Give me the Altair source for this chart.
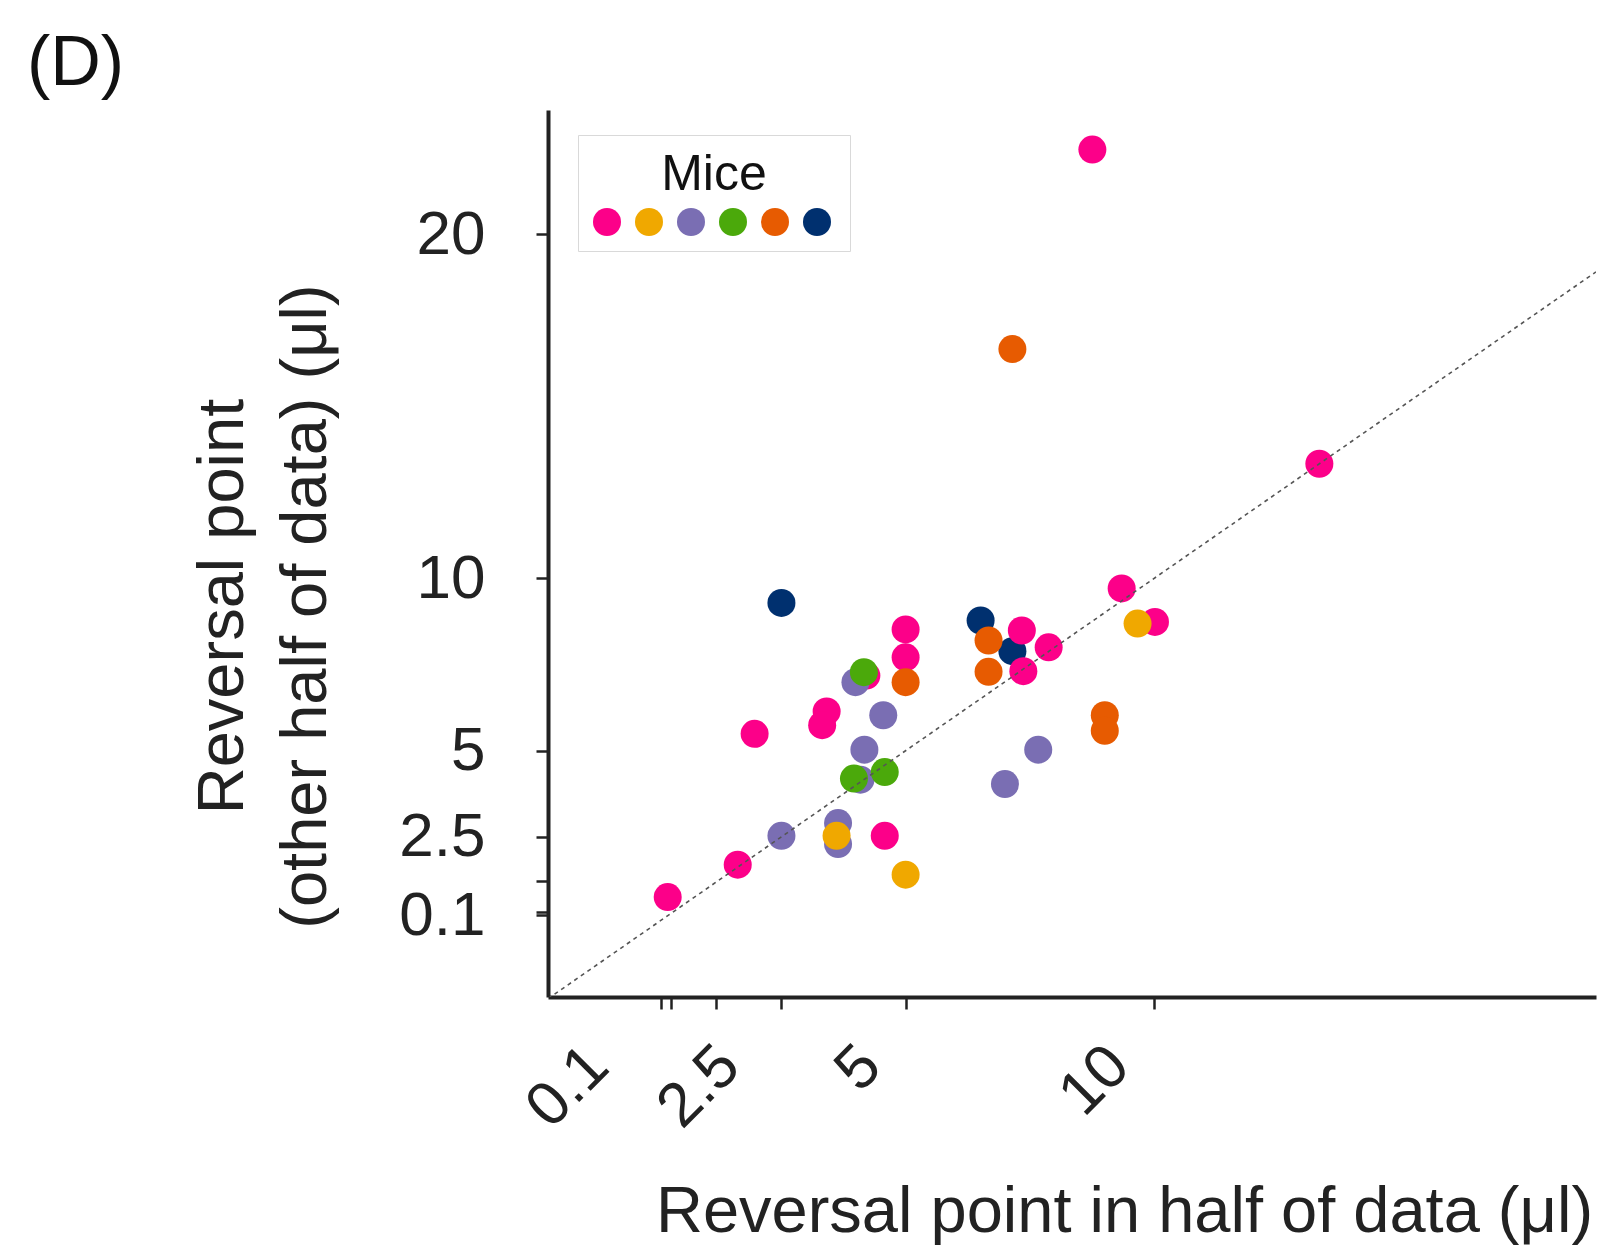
import altair as alt
import pandas as pd

# ---- data ----
mice = ["M1", "M2", "M3", "M4", "M5", "M6"]
colors = ["#fc0089", "#f0a800", "#7a6eb3", "#4ba90b", "#e75b01", "#00306f"]

pink_x = [8.76, 13.33, 9.35, 10.02, 7.34, 7.88, 7.37, 5.0, 5.0, 4.21, 3.41, 3.32, 1.96, 4.58, 1.62, 0.21]
pink_y = [22.45, 13.33, 9.71, 8.74, 8.49, 8.0, 7.31, 8.52, 7.71, 7.18, 6.14, 5.74, 5.49, 2.53, 1.69, 0.75]
yellow_x = [9.67, 3.61, 5.0]
yellow_y = [8.69, 2.53, 1.40]
purple_x = [3.99, 4.55, 4.17, 4.09, 7.67, 7.0, 2.5, 3.64, 3.64]
purple_y = [6.99, 6.03, 5.03, 4.16, 5.03, 4.03, 2.53, 2.9, 2.29]
green_x = [4.16, 3.96, 4.58]
green_y = [7.28, 4.19, 4.38]
orange_x = [7.15, 6.67, 6.67, 5.0, 9.01, 9.01]
orange_y = [16.66, 8.2, 7.29, 6.99, 6.03, 5.58]
navy_x = [2.5, 6.51, 7.15]
navy_y = [9.29, 8.78, 7.89]

x_domain = [-2.2, 18.9]
y_domain = [-2.15, 23.6]
diag = [-2.2, 18.9]

x_tick_values = [0.08, 0.28, 1.19, 2.5, 5, 10]
x_tick_labels = ["0.1", "", "", "2.5", "5", "10"]
y_tick_values = [0.22, 0.33, 1.23, 2.5, 5, 10, 20]
y_tick_labels = ["0.1", "", "", "2.5", "5", "10", "20"]

# drawing order (bottom to top)
groups = [
    ("M6", navy_x, navy_y),
    ("M1", pink_x, pink_y),
    ("M3", purple_x, purple_y),
    ("M2", yellow_x, yellow_y),
    ("M4", green_x, green_y),
    ("M5", orange_x, orange_y),
]
rows = []
for m, xs, ys in groups:
    for a, b in zip(xs, ys):
        rows.append({"mouse": m, "x": a, "y": b})
df = pd.DataFrame(rows)
df["ord"] = range(len(df))
diag_df = pd.DataFrame({"x": diag, "y": diag})


def label_expr(values, labels):
    parts = [f"datum.value == {v} ? '{l}'" for v, l in zip(values, labels)]
    return " : ".join(parts) + " : ''"


FONT = "Liberation Sans"
TXT = "#222222"

x_enc = alt.X(
    "x:Q",
    scale=alt.Scale(domain=x_domain, nice=False, zero=False),
    axis=alt.Axis(
        values=x_tick_values,
        labelExpr=label_expr(x_tick_values, x_tick_labels),
        title="Reversal point in half of data (μl)",
        titleX=576, titleY=234, titleAlign="center", titleBaseline="alphabetic",
        titleFontSize=65,
        labelAngle=315, labelAlign="right", labelBaseline="alphabetic",
        labelPadding=60,
        labelOffset={"condition": [{"test": "datum.value < 1", "value": -50},
                                    {"test": "datum.value == 2.5", "value": -39}],
                     "value": -22},
        labelOverlap=False, labelFlush=False, labelBound=False,
    ),
)
y_enc = alt.Y(
    "y:Q",
    scale=alt.Scale(domain=y_domain, nice=False, zero=False),
    axis=alt.Axis(
        values=y_tick_values,
        labelExpr=label_expr(y_tick_values, y_tick_labels),
        title=["Reversal point", "(other half of data) (μl)"],
        titleX=-306, titleY=496, titleAngle=270, titleAlign="center",
        titleBaseline="alphabetic", titleLineHeight=83, titleFontSize=65,
        labelPadding=51, labelBaseline="middle",
        labelOverlap=False, labelFlush=False, labelBound=False,
    ),
)

points = alt.Chart(df).mark_circle(size=784, opacity=1).encode(
    x=x_enc,
    y=y_enc,
    color=alt.Color(
        "mouse:N",
        scale=alt.Scale(domain=mice, range=colors),
        legend=alt.Legend(
            title="Mice", orient="none", legendX=30, legendY=25,
            direction="horizontal", columns=6,
            labelExpr="''", labelOffset=4, columnPadding=10,
            symbolSize=784, symbolType="circle", symbolStrokeWidth=0,
            symbolOpacity=1,
            titleFontSize=50, titleFont=FONT, titleFontWeight="normal",
            titleColor="#111111", titleAnchor="middle", titlePadding=8,
            padding=15, strokeColor="#d9d9d9", fillColor="white",
            cornerRadius=0,
        ),
    ),
    order=alt.Order("ord:Q"),
)

line = alt.Chart(diag_df).mark_line(
    strokeDash=[4, 4], color="#555555", strokeWidth=1.6, clip=True
).encode(x="x:Q", y="y:Q")

chart = (
    alt.layer(points, line)
    .properties(
        width=1048,
        height=887,
        title=alt.TitleParams(
            text="(D)", anchor="start", frame="group", dx=-521, dy=72, offset=27,
            baseline="alphabetic", fontSize=70, font=FONT, fontWeight="normal",
            color="#111111",
        ),
        autosize=alt.AutoSizeParams(type="none"),
        padding={"left": 548, "top": 110, "right": 8, "bottom": 252},
    )
    .configure_view(stroke=None)
    .configure_axis(
        grid=False,
        domainColor=TXT, domainWidth=4,
        tickColor=TXT, tickWidth=2.5, tickSize=12,
        labelFont=FONT, labelFontSize=62, labelColor=TXT,
        titleFont=FONT, titleColor=TXT, titleFontWeight="normal",
    )
    .configure_legend(labelFontSize=1)
)

chart.save("out.html", embed_options={"renderer": "svg", "actions": False})
